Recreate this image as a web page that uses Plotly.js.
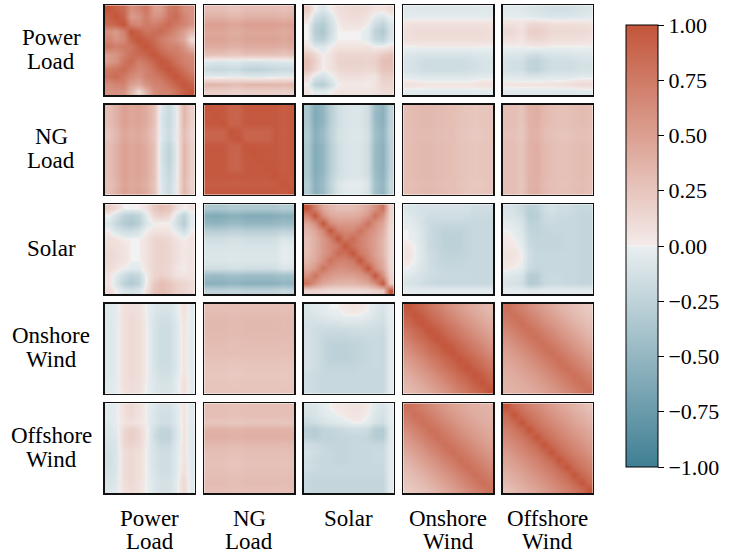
<!DOCTYPE html>
<html><head><meta charset="utf-8">
<script src="https://cdn.plot.ly/plotly-3.0.1.min.js"></script>
<style>html,body{margin:0;padding:0;background:#fff}</style>
</head><body><div id="chart" style="width:734px;height:554px"></div>
<script>
// Variables (row / column labels), one entry per text line
const variables = [['Power', 'Load'], ['NG', 'Load'], ['Solar'], ['Onshore', 'Wind'], ['Offshore', 'Wind']];
// Colorbar ticks
const cbTickVals = [-1, -0.75, -0.5, -0.25, 0, 0.25, 0.5, 0.75, 1];
const cbTickText = ['\u22121.00', '\u22120.75', '\u22120.50', '\u22120.25', '0.00', '0.25', '0.50', '0.75', '1.00'];

// Correlation blocks (rows = hour of row variable, cols = hour of column variable), 2-hour resolution
const corr_PL_PL = [
 [1.0,.92,.85,.6,.68,.78,.52,.52,.75,.8,.62,.58],
 [.92,1,.9,.52,.58,.72,.58,.6,.78,.85,.68,.6],
 [.85,.9,1,.7,.65,.75,.7,.78,.85,.75,.68,.58],
 [.6,.52,.7,1,.9,.78,.82,.85,.75,.65,.5,.35],
 [.68,.58,.65,.9,1,.92,.85,.72,.65,.58,.45,.1],
 [.78,.72,.75,.78,.92,1,.9,.78,.7,.7,.58,.35],
 [.52,.58,.7,.82,.85,.9,1,.9,.8,.75,.68,.62],
 [.52,.6,.78,.85,.72,.78,.9,1,.92,.8,.7,.68],
 [.75,.78,.85,.75,.65,.7,.8,.92,1,.92,.8,.7],
 [.8,.85,.75,.65,.58,.7,.75,.8,.92,1,.9,.8],
 [.62,.68,.68,.5,.45,.58,.68,.7,.8,.9,1,.92],
 [.58,.6,.58,.35,.1,.35,.62,.68,.7,.8,.92,1]
];
const corr_PL_NG = [
 [.3,.3,.3,.26,.26,.3,.3,.3,.3,.3,.27,.3],
 [.38,.38,.38,.34,.34,.38,.38,.38,.38,.38,.35,.38],
 [.5,.5,.5,.46,.46,.5,.5,.5,.5,.5,.47,.5],
 [.45,.45,.45,.41,.41,.45,.45,.45,.45,.45,.42,.45],
 [.48,.48,.48,.44,.44,.48,.48,.48,.48,.48,.45,.48],
 [.42,.42,.42,.38,.38,.42,.42,.42,.42,.42,.39,.42],
 [.28,.28,.28,.24,.24,.28,.28,.28,.28,.28,.25,.28],
 [-.06,-.08,-.08,-.06,-.06,-.1,-.1,-.1,-.08,-.08,-.06,-.06],
 [-.18,-.2,-.2,-.18,-.18,-.24,-.25,-.25,-.22,-.2,-.18,-.18],
 [-.04,-.05,-.05,-.03,-.03,-.06,-.06,-.06,-.05,-.05,-.03,-.04],
 [.35,.35,.35,.31,.31,.35,.35,.35,.35,.35,.32,.35],
 [.18,.18,.18,.15,.15,.18,.18,.18,.18,.18,.16,.18]
];
const corr_PL_Solar = [
 [.2,0,-.08,0,.08,.1,.12,.12,.1,.05,.05,.1],
 [.1,-.12,-.2,-.1,.05,.08,.1,.1,.05,-.04,-.08,0],
 [0,-.25,-.32,-.16,0,.05,.05,.05,0,-.16,-.25,-.08],
 [0,-.3,-.36,-.18,0,0,0,0,-.04,-.25,-.33,-.12],
 [0,-.24,-.28,-.12,0,0,0,0,-.04,-.2,-.25,-.08],
 [.05,-.06,-.08,0,.05,.05,.05,.05,.05,0,0,.05],
 [.22,.13,0,.05,.14,.14,.14,.14,.14,.14,.22,.26],
 [.3,.18,0,.05,.15,.17,.17,.17,.15,.18,.3,.3],
 [.26,.13,0,.05,.12,.14,.14,.14,.12,.14,.26,.26],
 [.1,-.08,-.12,-.04,.05,.08,.08,.08,.05,.05,.18,.18],
 [0,-.25,-.3,-.16,0,.02,.02,.02,0,.05,.14,.14],
 [.05,-.04,-.04,0,.05,.05,.05,.05,.05,.05,.1,.1]
];
const corr_PL_Onshore = [
 [-.06,-.06,-.07,-.07,-.07,-.07,-.07,-.07,-.07,-.07,-.06,-.06],
 [-.03,-.03,-.03,-.03,-.03,-.03,-.03,-.03,-.03,-.03,-.03,-.03],
 [.06,.07,.07,.07,.07,.07,.07,.07,.07,.07,.07,.06],
 [.09,.1,.11,.11,.11,.11,.11,.11,.11,.11,.1,.09],
 [.07,.08,.09,.09,.09,.09,.09,.09,.09,.09,.08,.07],
 [0,0,.01,.01,.01,.01,.01,.01,.01,.01,0,0],
 [-.07,-.08,-.1,-.1,-.1,-.1,-.1,-.1,-.1,-.08,-.07,-.07],
 [-.1,-.12,-.15,-.16,-.16,-.16,-.16,-.16,-.15,-.13,-.11,-.1],
 [-.1,-.12,-.15,-.16,-.16,-.16,-.16,-.16,-.15,-.13,-.11,-.1],
 [-.04,-.05,-.07,-.07,-.07,-.07,-.07,-.07,-.07,-.05,-.04,-.04],
 [.06,.06,.05,.04,.04,.04,.04,.04,.04,.05,.07,.07],
 [-.04,-.04,-.04,-.04,-.04,-.04,-.04,-.04,-.04,-.04,-.04,-.04]
];
const corr_PL_Offshore = [
 [-.05,-.05,-.06,-.08,-.1,-.12,-.14,-.14,-.14,-.12,-.1,-.08],
 [-.02,-.02,-.02,-.04,-.06,-.07,-.08,-.08,-.08,-.07,-.06,-.05],
 [.07,.07,.04,.12,.14,.12,.09,.09,.09,.09,.08,.07],
 [.12,.12,.07,.18,.2,.16,.12,.12,.12,.12,.12,.1],
 [.07,.07,.04,.12,.14,.12,.08,.08,.08,.08,.07,.06],
 [0,0,0,.02,.02,.01,0,0,0,0,0,0],
 [-.07,-.08,-.08,-.14,-.16,-.12,-.1,-.1,-.1,-.08,-.07,-.07],
 [-.12,-.14,-.14,-.23,-.25,-.19,-.15,-.15,-.15,-.14,-.12,-.12],
 [-.12,-.14,-.14,-.23,-.25,-.19,-.15,-.15,-.15,-.14,-.12,-.12],
 [-.05,-.06,-.06,-.09,-.09,-.07,-.06,-.06,-.06,-.05,-.04,-.04],
 [.04,.04,.04,.05,.05,.05,.05,.06,.07,.09,.12,.12],
 [-.05,-.05,-.05,-.06,-.06,-.06,-.06,-.06,-.06,-.06,-.05,-.05]
];
const corr_NG_NG = [
 [1,.97,.97,.9,.9,.97,.97,.97,.97,.97,.94,.97],
 [.97,1,.97,.9,.9,.97,.97,.97,.97,.97,.94,.97],
 [.97,.97,1,.9,.9,.97,.97,.97,.97,.97,.94,.97],
 [.9,.9,.9,1,.97,.9,.9,.9,.9,.97,.93,.97],
 [.9,.9,.9,.97,1,.9,.9,.9,.9,.97,.93,.97],
 [.97,.97,.97,.9,.9,1,.97,.97,.97,.97,.94,.97],
 [.97,.97,.97,.9,.9,.97,1,.97,.97,.97,.94,.97],
 [.97,.97,.97,.9,.9,.97,.97,1,.97,.97,.94,.97],
 [.97,.97,.97,.9,.9,.97,.97,.97,1,.97,.94,.97],
 [.97,.97,.97,.97,.97,.97,.97,.97,.97,1,.95,.97],
 [.94,.94,.94,.93,.93,.94,.94,.94,.94,.95,1,.95],
 [.97,.97,.97,.97,.97,.97,.97,.97,.97,.97,.95,1]
];
const corr_NG_Solar = [
 [-.35,-.6,-.5,-.3,-.15,-.1,-.08,-.08,-.15,-.45,-.55,-.25],
 [-.36,-.62,-.52,-.31,-.15,-.1,-.08,-.08,-.15,-.46,-.56,-.25],
 [-.35,-.6,-.5,-.3,-.15,-.1,-.08,-.08,-.15,-.45,-.55,-.25],
 [-.32,-.56,-.46,-.27,-.13,-.09,-.07,-.07,-.13,-.42,-.52,-.23],
 [-.32,-.56,-.46,-.27,-.13,-.09,-.07,-.07,-.13,-.42,-.52,-.23],
 [-.35,-.6,-.5,-.3,-.15,-.1,-.08,-.08,-.15,-.45,-.55,-.25],
 [-.35,-.6,-.5,-.3,-.15,-.1,-.08,-.08,-.15,-.45,-.55,-.25],
 [-.35,-.6,-.5,-.3,-.15,-.1,-.08,-.08,-.15,-.45,-.55,-.25],
 [-.35,-.6,-.5,-.3,-.15,-.1,-.08,-.08,-.15,-.45,-.55,-.25],
 [-.34,-.58,-.48,-.28,-.14,-.1,-.08,-.08,-.14,-.44,-.54,-.24],
 [-.3,-.55,-.45,-.25,-.08,-.03,-.02,-.02,-.08,-.4,-.5,-.2],
 [-.32,-.56,-.46,-.27,-.1,-.05,-.04,-.04,-.1,-.42,-.52,-.22]
];
const corr_NG_Onshore = [
 [.3,.32,.33,.33,.32,.31,.3,.27,.25,.24,.25,.26],
 [.3,.32,.33,.33,.32,.31,.3,.27,.25,.24,.25,.26],
 [.3,.32,.33,.33,.32,.31,.3,.27,.25,.24,.25,.26],
 [.29,.31,.32,.32,.31,.3,.29,.26,.24,.23,.24,.25],
 [.29,.31,.32,.32,.31,.3,.29,.26,.24,.23,.24,.25],
 [.3,.32,.33,.33,.32,.31,.3,.27,.25,.24,.25,.26],
 [.3,.32,.33,.33,.32,.31,.3,.27,.25,.24,.25,.26],
 [.3,.32,.33,.33,.32,.31,.3,.27,.25,.24,.25,.26],
 [.3,.32,.33,.33,.32,.31,.3,.27,.25,.24,.25,.26],
 [.3,.32,.33,.33,.32,.31,.3,.27,.25,.24,.25,.26],
 [.29,.31,.32,.32,.31,.3,.29,.26,.24,.23,.24,.25],
 [.3,.32,.33,.33,.32,.31,.3,.27,.25,.24,.25,.26]
];
const corr_NG_Offshore = [
 [.3,.3,.25,.38,.4,.33,.3,.28,.28,.3,.32,.3],
 [.3,.3,.25,.38,.4,.33,.3,.28,.28,.3,.32,.3],
 [.3,.3,.25,.38,.4,.33,.3,.28,.28,.3,.32,.3],
 [.28,.28,.23,.36,.38,.31,.28,.26,.26,.28,.3,.28],
 [.28,.28,.23,.36,.38,.31,.28,.26,.26,.28,.3,.28],
 [.3,.3,.25,.38,.4,.33,.3,.28,.28,.3,.32,.3],
 [.3,.3,.25,.38,.4,.33,.3,.28,.28,.3,.32,.3],
 [.3,.3,.25,.38,.4,.33,.3,.28,.28,.3,.32,.3],
 [.3,.3,.25,.38,.4,.33,.3,.28,.28,.3,.32,.3],
 [.3,.3,.25,.38,.4,.33,.3,.28,.28,.3,.32,.3],
 [.29,.29,.24,.37,.39,.32,.29,.27,.27,.29,.31,.29],
 [.3,.3,.25,.38,.4,.33,.3,.28,.28,.3,.32,.3]
];
const corr_Solar_Solar = [
 [1,.7,.45,.35,.3,.3,.3,.35,.45,.6,.8,.15],
 [.7,1,.6,.45,.4,.4,.4,.45,.55,.8,.6,.15],
 [.45,.6,1,.65,.55,.55,.55,.6,.8,.6,.45,.12],
 [.35,.45,.65,1,.7,.65,.65,.8,.65,.55,.4,.1],
 [.3,.4,.55,.7,1,.75,.85,.7,.6,.5,.35,.1],
 [.3,.4,.55,.65,.75,1,.8,.7,.6,.5,.35,.1],
 [.3,.4,.55,.65,.85,.8,1,.75,.65,.5,.35,.1],
 [.35,.45,.6,.8,.7,.7,.75,1,.7,.55,.4,.1],
 [.45,.55,.8,.65,.6,.6,.65,.7,1,.65,.45,.12],
 [.6,.8,.6,.55,.5,.5,.5,.55,.65,1,.6,.15],
 [.8,.6,.45,.4,.35,.35,.35,.4,.45,.6,1,.2],
 [.15,.15,.12,.1,.1,.1,.1,.1,.12,.15,.2,1]
];
const corr_Solar_Onshore = [
 [-.08,-.1,-.12,-.12,-.12,-.12,-.12,-.12,-.12,-.15,-.15,-.15],
 [-.05,-.08,-.12,-.15,-.15,-.15,-.15,-.15,-.15,-.18,-.18,-.18],
 [-.03,-.05,-.12,-.18,-.2,-.2,-.2,-.2,-.2,-.2,-.2,-.2],
 [0,-.03,-.1,-.18,-.22,-.25,-.25,-.25,-.22,-.2,-.2,-.2],
 [0,-.02,-.1,-.18,-.22,-.26,-.27,-.26,-.22,-.2,-.2,-.2],
 [.02,0,-.08,-.18,-.22,-.26,-.27,-.26,-.22,-.2,-.2,-.2],
 [.05,0,-.08,-.16,-.2,-.24,-.25,-.24,-.22,-.2,-.2,-.2],
 [.03,0,-.08,-.15,-.2,-.22,-.22,-.22,-.2,-.2,-.2,-.2],
 [0,-.03,-.1,-.15,-.18,-.2,-.2,-.2,-.2,-.2,-.2,-.2],
 [-.05,-.08,-.12,-.16,-.18,-.18,-.18,-.18,-.18,-.2,-.2,-.2],
 [-.1,-.12,-.15,-.18,-.2,-.2,-.2,-.2,-.2,-.2,-.2,-.2],
 [-.02,-.02,-.03,-.03,-.03,-.03,-.03,-.03,-.03,-.03,-.03,-.03]
];
const corr_Solar_Offshore = [
 [-.1,-.12,-.18,-.28,-.25,-.15,-.12,-.15,-.15,-.18,-.2,-.2],
 [-.08,-.1,-.15,-.3,-.28,-.18,-.15,-.18,-.18,-.2,-.22,-.22],
 [-.03,-.05,-.1,-.25,-.25,-.2,-.18,-.2,-.2,-.2,-.22,-.22],
 [0,-.02,-.08,-.22,-.25,-.22,-.2,-.2,-.2,-.2,-.22,-.22],
 [.02,0,-.05,-.2,-.22,-.22,-.22,-.22,-.2,-.2,-.22,-.22],
 [.03,.02,-.03,-.18,-.22,-.22,-.22,-.22,-.2,-.2,-.22,-.22],
 [.06,.05,0,-.15,-.2,-.2,-.2,-.2,-.2,-.2,-.22,-.22],
 [.05,.04,0,-.15,-.2,-.2,-.2,-.2,-.2,-.2,-.22,-.22],
 [.02,0,-.03,-.18,-.22,-.2,-.2,-.2,-.2,-.2,-.22,-.22],
 [-.05,-.08,-.1,-.3,-.3,-.2,-.18,-.18,-.2,-.2,-.22,-.22],
 [-.1,-.12,-.15,-.32,-.3,-.2,-.18,-.18,-.2,-.2,-.22,-.22],
 [-.02,-.02,-.02,-.05,-.05,-.03,-.03,-.03,-.03,-.03,-.03,-.03]
];
const corr_Onshore_Onshore = [
 [1,.93,.86,.79,.72,.65,.58,.52,.46,.41,.36,.32],
 [.93,1,.93,.86,.79,.72,.65,.58,.52,.46,.41,.36],
 [.86,.93,1,.93,.86,.79,.72,.65,.58,.52,.46,.41],
 [.79,.86,.93,1,.93,.86,.79,.72,.65,.58,.52,.46],
 [.72,.79,.86,.93,1,.93,.86,.79,.72,.65,.58,.52],
 [.65,.72,.79,.86,.93,1,.93,.86,.79,.72,.65,.58],
 [.58,.65,.72,.79,.86,.93,1,.93,.86,.79,.72,.65],
 [.52,.58,.65,.72,.79,.86,.93,1,.93,.86,.79,.72],
 [.46,.52,.58,.65,.72,.79,.86,.93,1,.93,.86,.79],
 [.41,.46,.52,.58,.65,.72,.79,.86,.93,1,.93,.86],
 [.36,.41,.46,.52,.58,.65,.72,.79,.86,.93,1,.93],
 [.32,.36,.41,.46,.52,.58,.65,.72,.79,.86,.93,1]
];
const corr_Onshore_Offshore = [
 [.82,.76,.7,.63,.56,.5,.44,.38,.33,.29,.25,.22],
 [.78,.82,.76,.7,.63,.56,.5,.44,.38,.33,.29,.25],
 [.72,.78,.82,.76,.7,.63,.56,.5,.44,.38,.33,.29],
 [.66,.72,.78,.82,.76,.7,.63,.56,.5,.44,.38,.33],
 [.6,.66,.72,.78,.82,.76,.7,.63,.56,.5,.44,.38],
 [.55,.6,.66,.72,.78,.82,.76,.7,.63,.56,.5,.44],
 [.5,.55,.6,.66,.72,.78,.82,.76,.7,.63,.56,.5],
 [.46,.5,.55,.6,.66,.72,.78,.82,.76,.7,.63,.56],
 [.42,.46,.5,.55,.6,.66,.72,.78,.82,.76,.7,.63],
 [.4,.42,.46,.5,.55,.6,.66,.72,.78,.82,.76,.7],
 [.38,.4,.42,.46,.5,.55,.6,.66,.72,.78,.82,.76],
 [.36,.38,.4,.42,.46,.5,.55,.6,.66,.72,.78,.82]
];
const corr_Offshore_Offshore = [
 [1,.86,.78,.71,.65,.59,.53,.48,.43,.38,.33,.28],
 [.86,1,.86,.78,.71,.65,.59,.53,.48,.43,.38,.33],
 [.78,.86,1,.86,.78,.71,.65,.59,.53,.48,.43,.38],
 [.71,.78,.86,1,.86,.78,.71,.65,.59,.53,.48,.43],
 [.65,.71,.78,.86,1,.86,.78,.71,.65,.59,.53,.48],
 [.59,.65,.71,.78,.86,1,.86,.78,.71,.65,.59,.53],
 [.53,.59,.65,.71,.78,.86,1,.86,.78,.71,.65,.59],
 [.48,.53,.59,.65,.71,.78,.86,1,.86,.78,.71,.65],
 [.43,.48,.53,.59,.65,.71,.78,.86,1,.86,.78,.71],
 [.38,.43,.48,.53,.59,.65,.71,.78,.86,1,.86,.78],
 [.33,.38,.43,.48,.53,.59,.65,.71,.78,.86,1,.86],
 [.28,.33,.38,.43,.48,.53,.59,.65,.71,.78,.86,1]
];

// Upper-triangle blocks; lower blocks are transposes (correlation matrix is symmetric)
const upper = {
 '0_0': corr_PL_PL, '0_1': corr_PL_NG, '0_2': corr_PL_Solar, '0_3': corr_PL_Onshore, '0_4': corr_PL_Offshore,
 '1_1': corr_NG_NG, '1_2': corr_NG_Solar, '1_3': corr_NG_Onshore, '1_4': corr_NG_Offshore,
 '2_2': corr_Solar_Solar, '2_3': corr_Solar_Onshore, '2_4': corr_Solar_Offshore,
 '3_3': corr_Onshore_Onshore, '3_4': corr_Onshore_Offshore,
 '4_4': corr_Offshore_Offshore
};
function transpose(m){ return m[0].map((_, j) => m.map(row => row[j])); }
function block(r, c){ return r <= c ? upper[r + '_' + c] : transpose(upper[c + '_' + r]); }

const W = 734, H = 554;
const colorscale = [[0,'#3f7f93'],[0.497,'#e8eef0'],[0.5,'#f2f2f2'],[0.503,'#f3eae8'],[1,'#c3553a']];
const FONT = 'Liberation Serif, DejaVu Serif, serif';
const LABEL_SIZE = 23;

const traces = [];
const layout = {
  width: W, height: H, margin: {l:0, r:0, t:0, b:0},
  paper_bgcolor: '#fff', plot_bgcolor: '#fff', showlegend: false,
  coloraxis: {
    cmin: -1, cmax: 1, colorscale: colorscale,
    colorbar: {
      x: 626/W, xanchor: 'left', xref: 'paper', y: (H-467)/H, yanchor: 'bottom', yref: 'paper',
      len: 442, lenmode: 'pixels', thickness: 32, thicknessmode: 'pixels',
      outlinewidth: 1, outlinecolor: '#000', xpad: 0, ypad: 0,
      ticks: 'outside', ticklen: 6, tickwidth: 1, tickcolor: '#000',
      tickvals: cbTickVals, ticktext: cbTickText,
      tickfont: {family: FONT, size: 22, color: '#000'}
    }
  },
  annotations: []
};

const n = 5, pitch = 99.5, size = 91.5, left0 = 104, top0 = 4.5;
let k = 0;
for (let r = 0; r < n; r++) {
  for (let c = 0; c < n; c++) {
    k++;
    const z = block(r, c);
    const idx = z.map((_, i) => i);
    const xa = k === 1 ? 'xaxis' : 'xaxis' + k;
    const ya = k === 1 ? 'yaxis' : 'yaxis' + k;
    const xl = left0 + pitch * c, yt = top0 + pitch * r;
    traces.push({
      type: 'heatmap', z: z, x: idx, y: idx, coloraxis: 'coloraxis', zsmooth: 'best',
      xaxis: k === 1 ? 'x' : 'x' + k, yaxis: k === 1 ? 'y' : 'y' + k, hoverinfo: 'skip'
    });
    const ax = {showgrid:false, zeroline:false, showticklabels:false, ticks:'', showline:true,
                linecolor:'#111', linewidth:1.5, mirror:true, fixedrange:true};
    layout[xa] = Object.assign({}, ax, {domain: [(xl+0.75)/W, (xl+size-0.75)/W], range: [-0.5, z[0].length-0.5],
                  anchor: k === 1 ? 'y' : 'y' + k});
    layout[ya] = Object.assign({}, ax, {domain: [(H-yt-size+0.75)/H, (H-yt-0.75)/H], range: [z.length-0.5, -0.5],
                  anchor: k === 1 ? 'x' : 'x' + k});
  }
}

function addText(txt, px, py){
  layout.annotations.push({text: txt, xref:'paper', yref:'paper', x: px/W, y: (H-py)/H,
    xanchor:'center', yanchor:'middle', showarrow:false,
    font:{family: FONT, size: LABEL_SIZE, color:'#000'}});
}
const lineGap = 24;
for (let i = 0; i < n; i++) {
  const lines = variables[i];
  const cy = top0 + pitch * i + size/2;
  const cx = left0 + pitch * i + size/2;
  lines.forEach((t, j) => {
    // row labels: vertically centred block of lines
    addText(t, 51, cy + (j - (lines.length-1)/2) * lineGap - 1);
    // column labels: first line aligned at the same baseline row
    addText(t, cx, 518 + j * 23);
  });
}

Plotly.newPlot('chart', traces, layout, {staticPlot: true, displayModeBar: false});
</script>
</body></html>
